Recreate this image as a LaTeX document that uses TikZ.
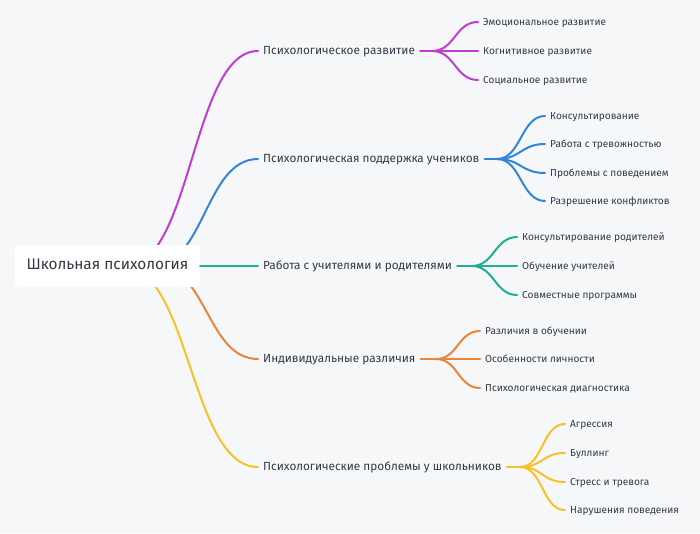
\documentclass[tikz,border=0pt]{standalone}
\usepackage{fontspec}
\setmainfont{Fira Sans}
\definecolor{bg}{HTML}{F6F7F9}
\definecolor{ink}{HTML}{343A44}
\definecolor{cPurple}{HTML}{C03CD2}
\definecolor{cBlue}{HTML}{3186DC}
\definecolor{cTeal}{HTML}{1FAF98}
\definecolor{cOrange}{HTML}{EC8439}
\definecolor{cYellow}{HTML}{F7C227}

\begin{document}
\begin{tikzpicture}[x=1pt,y=-1pt,
    every node/.style={inner sep=5pt, text=ink, text height=1.5ex, text depth=.35ex},
    root/.style={fill=white, rounded corners=4pt, minimum width=185pt, minimum height=42pt, font=\fontsize{15.4}{18}\selectfont},
    topic/.style={anchor=west, font=\fontsize{11.8}{14}\selectfont},
    leaf/.style={anchor=west, font=\fontsize{10.1}{12}\selectfont},
    link/.style={line width=2pt, line cap=round}]
    \fill [bg] (0,0) rectangle (700,533);
    \useasboundingbox (0,0) rectangle (700,533);

    % start points of the branches, hidden under the root box
    \coordinate (r-pd) at (126,266);
    \coordinate (r-ps) at (152,266);
    \coordinate (r-id) at (156,266);
    \coordinate (r-pp) at (122,266);

    % first level
    \node [topic] (pd) at (258,51) {Психологическое развитие};
    \node [topic] (ps) at (258,159) {Психологическая поддержка учеников};
    \node [topic] (wt) at (258,266) {Работа с учителями и родителями};
    \node [topic] (id) at (258,359) {Индивидуальные различия};
    \node [topic] (pp) at (258,467) {Психологические проблемы у школьников};

    \draw [link,cPurple] (r-pd) .. controls +(66,0) and +(-66,0) .. (pd.west);
    \draw [link,cBlue] (r-ps) .. controls +(53,0) and +(-53,0) .. (ps.west);
    \draw [link,cOrange] (r-id) .. controls +(51,0) and +(-51,0) .. (id.west);
    \draw [link,cYellow] (r-pp) .. controls +(68,0) and +(-68,0) .. (pp.west);

    \node [root] (sp) at (107.5,266) {Школьная психология};
    \draw [link,cTeal] (sp.east) -- (wt.west);

    % forks
    \coordinate (pd-f) at (432,51);
    \coordinate (ps-f) at (497,159);
    \coordinate (wt-f) at (472,266);
    \coordinate (id-f) at (436,359);
    \coordinate (pp-f) at (520,467);
    \draw [link,cPurple] (pd.east) -- (pd-f);
    \draw [link,cBlue] (ps.east) -- (ps-f);
    \draw [link,cTeal] (wt.east) -- (wt-f);
    \draw [link,cOrange] (id.east) -- (id-f);
    \draw [link,cYellow] (pp.east) -- (pp-f);

    % Психологическое развитие
    \node [leaf] (pd1) at (478,22) {Эмоциональное развитие};
    \node [leaf] (pd2) at (478,51) {Когнитивное развитие};
    \node [leaf] (pd3) at (478,80) {Социальное развитие};
    \draw [link,cPurple] (pd-f) .. controls +(23,0) and +(-23,0) .. (pd1.west);
    \draw [link,cPurple] (pd-f) -- (pd2.west);
    \draw [link,cPurple] (pd-f) .. controls +(23,0) and +(-23,0) .. (pd3.west);

    % Психологическая поддержка учеников
    \node [leaf] (ps1) at (545,116) {Консультирование};
    \node [leaf] (ps2) at (545,144) {Работа с тревожностью};
    \node [leaf] (ps3) at (545,173) {Проблемы с поведением};
    \node [leaf] (ps4) at (545,201) {Разрешение конфликтов};
    \draw [link,cBlue] (ps-f) .. controls +(24,0) and +(-24,0) .. (ps1.west);
    \draw [link,cBlue] (ps-f) .. controls +(24,0) and +(-24,0) .. (ps2.west);
    \draw [link,cBlue] (ps-f) .. controls +(24,0) and +(-24,0) .. (ps3.west);
    \draw [link,cBlue] (ps-f) .. controls +(24,0) and +(-24,0) .. (ps4.west);

    % Работа с учителями и родителями
    \node [leaf] (wt1) at (517,237) {Консультирование родителей};
    \node [leaf] (wt2) at (517,266) {Обучение учителей};
    \node [leaf] (wt3) at (517,295) {Совместные программы};
    \draw [link,cTeal] (wt-f) .. controls +(22,0) and +(-22,0) .. (wt1.west);
    \draw [link,cTeal] (wt-f) -- (wt2.west);
    \draw [link,cTeal] (wt-f) .. controls +(22,0) and +(-22,0) .. (wt3.west);

    % Индивидуальные различия
    \node [leaf] (id1) at (480,331) {Различия в обучении};
    \node [leaf] (id2) at (480,359) {Особенности личности};
    \node [leaf] (id3) at (480,388) {Психологическая диагностика};
    \draw [link,cOrange] (id-f) .. controls +(22,0) and +(-22,0) .. (id1.west);
    \draw [link,cOrange] (id-f) -- (id2.west);
    \draw [link,cOrange] (id-f) .. controls +(22,0) and +(-22,0) .. (id3.west);

    % Психологические проблемы у школьников
    \node [leaf] (pp1) at (565,424) {Агрессия};
    \node [leaf] (pp2) at (565,453) {Буллинг};
    \node [leaf] (pp3) at (565,482) {Стресс и тревога};
    \node [leaf] (pp4) at (565,510) {Нарушения поведения};
    \draw [link,cYellow] (pp-f) .. controls +(23,0) and +(-23,0) .. (pp1.west);
    \draw [link,cYellow] (pp-f) .. controls +(23,0) and +(-23,0) .. (pp2.west);
    \draw [link,cYellow] (pp-f) .. controls +(23,0) and +(-23,0) .. (pp3.west);
    \draw [link,cYellow] (pp-f) .. controls +(23,0) and +(-23,0) .. (pp4.west);
\end{tikzpicture}
\end{document}
